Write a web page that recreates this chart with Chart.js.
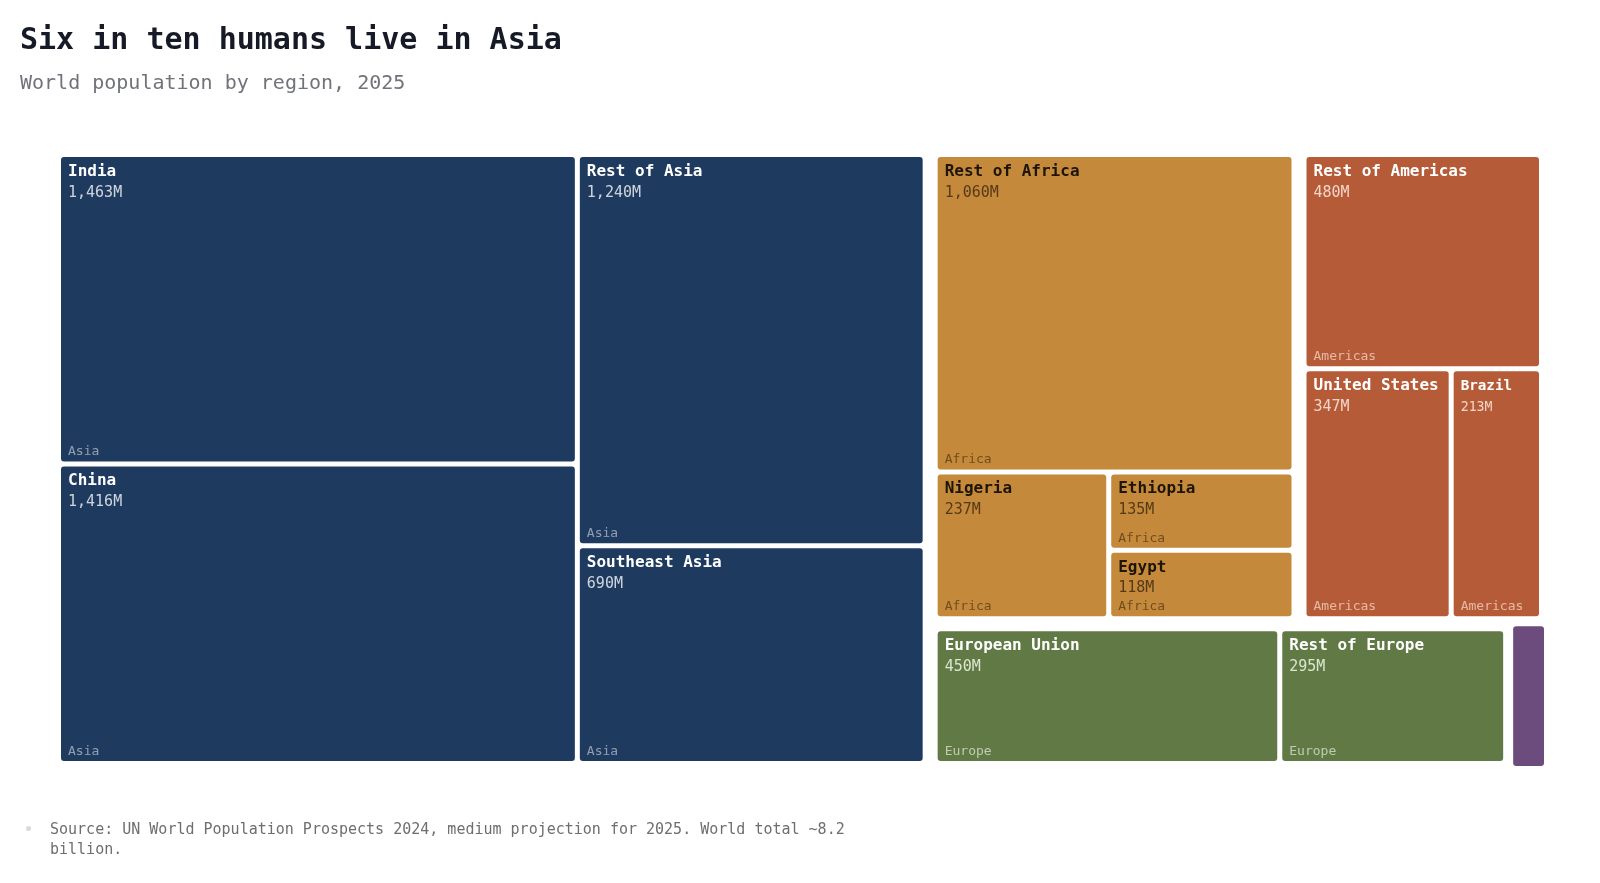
<!DOCTYPE html>
<html>
<head>
<meta charset="utf-8">
<script src="https://cdn.jsdelivr.net/npm/chart.js@4.4.1/dist/chart.umd.min.js"></script>
<style>
  html, body { margin: 0; padding: 0; background: #ffffff; width: 1600px; height: 883px; overflow: hidden; font-family: "DejaVu Sans Mono", monospace; }
  #wrap { position: absolute; left: 0; top: 0; width: 1600px; height: 883px; }
  .txt { position: absolute; white-space: nowrap; }
</style>
</head>
<body>
<div id="wrap"><canvas id="chart"></canvas></div>
<div class="txt" style="left:20px; top:24px; font-size:30px; line-height:30px; font-weight:bold; color:#161a26;">Six in ten humans live in Asia</div>
<div class="txt" style="left:20px; top:72px; font-size:20px; line-height:20px; color:#71737a;">World population by region, 2025</div>
<div style="position:absolute; left:26px; top:826px; width:5px; height:5px; border-radius:50%; background:#dadade;"></div>
<div style="position:absolute; left:50px; top:819px; width:810px; font-size:15px; line-height:20px; color:#6e6e6e;">Source: UN World Population Prospects 2024, medium projection for 2025. World total ~8.2 billion.</div>
<script>
// ---- Data (millions of people, 2025) ----
const regions = ['Asia', 'Africa', 'Americas', 'Europe', 'Oceania'];
const names = ['India', 'China', 'Rest of Asia', 'Southeast Asia',
               'Rest of Africa', 'Nigeria', 'Ethiopia', 'Egypt',
               'Rest of Americas', 'United States', 'Brazil',
               'European Union', 'Rest of Europe', 'Oceania'];
const populations = [1463, 1416, 1240, 690,
                     1060, 237, 135, 118,
                     480, 347, 213,
                     450, 295, 46];
const regionOf = ['Asia', 'Asia', 'Asia', 'Asia',
                  'Africa', 'Africa', 'Africa', 'Africa',
                  'Americas', 'Americas', 'Americas',
                  'Europe', 'Europe', 'Oceania'];

// ---- Styles ----
const regionStyle = {
  Asia:     { fill: '#1f3a5f', name: '#ffffff', value: 'rgba(255,255,255,0.78)', caption: 'rgba(255,255,255,0.5)' },
  Africa:   { fill: '#c4893b', name: '#1e1408', value: 'rgba(40,26,8,0.72)',    caption: 'rgba(40,26,8,0.55)' },
  Americas: { fill: '#b65b38', name: '#ffffff', value: 'rgba(255,235,225,0.85)', caption: 'rgba(255,235,225,0.65)' },
  Europe:   { fill: '#617a45', name: '#ffffff', value: 'rgba(240,248,230,0.85)', caption: 'rgba(240,248,230,0.65)' },
  Oceania:  { fill: '#6b4c7d', name: '#ffffff', value: 'rgba(255,255,255,0.8)',  caption: 'rgba(255,255,255,0.6)' }
};
const GROUP_GAP = 15, CELL_GAP = 5, RADIUS = 3;
const HIGHLIGHT = 'Oceania', HIGHLIGHT_GROW = 5;
const FONT = '"DejaVu Sans Mono", monospace';

// ---- Squarified layout (golden ratio target, as in d3.treemapSquarify) ----
const PHI = (1 + Math.sqrt(5)) / 2;
function dice(nodes, total, x0, y0, x1, y1) {
  const k = total && (x1 - x0) / total;
  nodes.forEach(n => { n.y0 = y0; n.y1 = y1; n.x0 = x0; n.x1 = x0 += n.value * k; });
}
function slice(nodes, total, x0, y0, x1, y1) {
  const k = total && (y1 - y0) / total;
  nodes.forEach(n => { n.x0 = x0; n.x1 = x1; n.y0 = y0; n.y1 = y0 += n.value * k; });
}
function squarify(nodes, value, x0, y0, x1, y1) {
  let i0 = 0, i1 = 0;
  const n = nodes.length;
  while (i0 < n) {
    const dx = x1 - x0, dy = y1 - y0;
    let sumValue;
    do sumValue = nodes[i1++].value; while (!sumValue && i1 < n);
    let minValue = sumValue, maxValue = sumValue;
    const alpha = Math.max(dy / dx, dx / dy) / (value * PHI);
    let beta = sumValue * sumValue * alpha;
    let minRatio = Math.max(maxValue / beta, beta / minValue);
    for (; i1 < n; ++i1) {
      const nv = nodes[i1].value;
      sumValue += nv;
      if (nv < minValue) minValue = nv;
      if (nv > maxValue) maxValue = nv;
      beta = sumValue * sumValue * alpha;
      const newRatio = Math.max(maxValue / beta, beta / minValue);
      if (newRatio > minRatio) { sumValue -= nv; break; }
      minRatio = newRatio;
    }
    const row = nodes.slice(i0, i1);
    if (dx < dy) {
      const ny = value ? y0 + dy * sumValue / value : y1;
      dice(row, sumValue, x0, y0, x1, ny); y0 = ny;
    } else {
      const nx = value ? x0 + dx * sumValue / value : x1;
      slice(row, sumValue, x0, y0, nx, y1); x0 = nx;
    }
    value -= sumValue; i0 = i1;
  }
}

function roundedRect(ctx, x, y, w, h, r) {
  ctx.beginPath();
  ctx.moveTo(x + r, y);
  ctx.lineTo(x + w - r, y); ctx.quadraticCurveTo(x + w, y, x + w, y + r);
  ctx.lineTo(x + w, y + h - r); ctx.quadraticCurveTo(x + w, y + h, x + w - r, y + h);
  ctx.lineTo(x + r, y + h); ctx.quadraticCurveTo(x, y + h, x, y + h - r);
  ctx.lineTo(x, y + r); ctx.quadraticCurveTo(x, y, x + r, y);
  ctx.closePath();
}

function drawCell(ctx, c) {
  const st = regionStyle[c.region];
  let x0 = c.x0, y0 = c.y0, x1 = c.x1, y1 = c.y1;
  if (c.name === HIGHLIGHT) { x0 -= HIGHLIGHT_GROW; x1 += HIGHLIGHT_GROW; y0 -= HIGHLIGHT_GROW; y1 += HIGHLIGHT_GROW; }
  const w = x1 - x0, h = y1 - y0;
  ctx.save();
  ctx.fillStyle = st.fill;
  roundedRect(ctx, x0, y0, w, h, RADIUS);
  ctx.fill();
  if (w < 40 || h < 30) { ctx.restore(); return; }
  ctx.clip();
  const nameSize = Math.min(16, w / 6);
  const valueSize = nameSize - 1;
  ctx.textAlign = 'left';
  ctx.textBaseline = 'alphabetic';
  ctx.fillStyle = st.name;
  ctx.font = `bold ${nameSize}px ${FONT}`;
  ctx.fillText(c.name, x0 + 7, y0 + 19);
  ctx.fillStyle = st.value;
  ctx.font = `${valueSize}px ${FONT}`;
  ctx.fillText(c.value.toLocaleString('en-US') + 'M', x0 + 7, y0 + 39.5);
  ctx.fillStyle = st.caption;
  ctx.font = `13px ${FONT}`;
  ctx.fillText(c.region, x0 + 7, y1 - 6);
  ctx.restore();
}

const treemapPlugin = {
  id: 'treemapCells',
  afterDatasetsDraw(chart) {
    const { ctx, scales: { x, y } } = chart;
    const left = x.getPixelForValue(0), right = x.getPixelForValue(1);
    const top = y.getPixelForValue(1), bottom = y.getPixelForValue(0);
    const groups = regions.map(r => {
      const kids = names.map((nm, i) => ({ name: nm, value: populations[i], region: regionOf[i] }))
        .filter(k => k.region === r)
        .sort((a, b) => b.value - a.value);
      return { name: r, value: kids.reduce((s, k) => s + k.value, 0), children: kids };
    }).sort((a, b) => b.value - a.value);
    const total = groups.reduce((s, g) => s + g.value, 0);
    const p1 = GROUP_GAP / 2, p2 = CELL_GAP / 2;
    squarify(groups, total, left - p1, top - p1, right + p1, bottom + p1);
    groups.forEach(g => {
      const gx0 = g.x0 + p1, gy0 = g.y0 + p1, gx1 = g.x1 - p1, gy1 = g.y1 - p1;
      squarify(g.children, g.value, gx0 - p2, gy0 - p2, gx1 + p2, gy1 + p2);
      g.children.forEach(c => {
        c.x0 += p2; c.y0 += p2; c.x1 -= p2; c.y1 -= p2;
        drawCell(ctx, c);
      });
    });
  }
};

new Chart(document.getElementById('chart'), {
  type: 'scatter',
  data: { datasets: [{ data: [], pointRadius: 0 }] },
  options: {
    responsive: true,
    maintainAspectRatio: false,
    animation: false,
    events: [],
    layout: { padding: { left: 61, top: 157, right: 61, bottom: 122 } },
    scales: {
      x: { type: 'linear', min: 0, max: 1, display: false },
      y: { type: 'linear', min: 0, max: 1, display: false }
    },
    plugins: { legend: { display: false }, tooltip: { enabled: false } }
  },
  plugins: [treemapPlugin]
});
</script>
</body>
</html>
